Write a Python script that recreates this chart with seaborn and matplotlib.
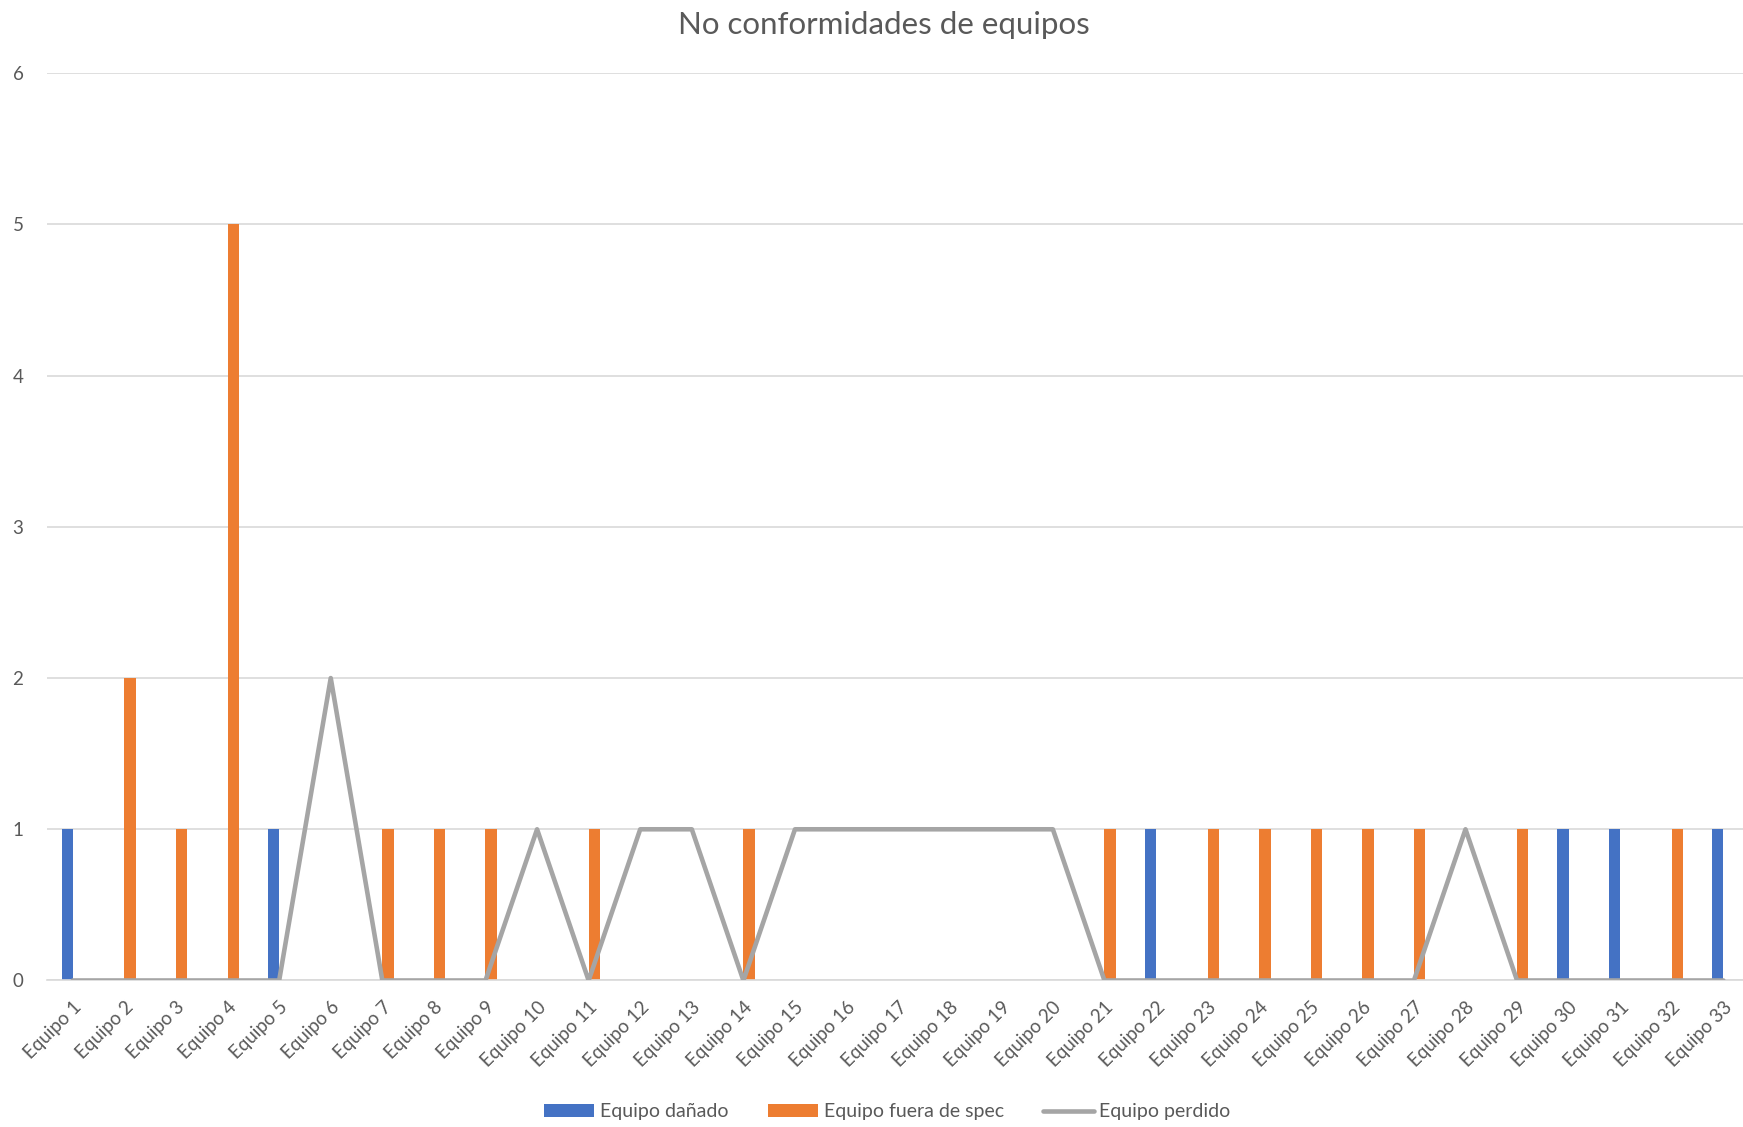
import numpy as np
import pandas as pd
import matplotlib
matplotlib.use("Agg")
import matplotlib.pyplot as plt
from matplotlib.patches import Patch
from matplotlib.lines import Line2D
import seaborn as sns

# Equipment labels
equipos = [f"Equipo {i}" for i in range(1, 34)]

# Counts per nonconformity type
danado = [1, 0, 0, 0, 1, 0, 0, 0, 0, 0, 0, 0, 0, 0, 0, 0, 0, 0, 0, 0,
          0, 1, 0, 0, 0, 0, 0, 0, 0, 1, 1, 0, 1]
fuera_spec = [0, 2, 1, 5, 0, 0, 1, 1, 1, 0, 1, 0, 0, 1, 0, 0, 0, 0, 0, 0,
              1, 0, 1, 1, 1, 1, 1, 0, 1, 0, 0, 1, 0]
perdido = [0, 0, 0, 0, 0, 2, 0, 0, 0, 1, 0, 1, 1, 0, 1, 1, 1, 1, 1, 1,
           0, 0, 0, 0, 0, 0, 0, 1, 0, 0, 0, 0, 0]

serie_names = ["Equipo dañado", "Equipo fuera de spec", "Equipo perdido"]
colors = ["#4472C4", "#ED7D31", "#A5A5A5"]
text_color = "#595959"
grid_color = "#D9D9D9"

sns.set_theme(style="white")
plt.rcParams["font.family"] = ["Lato", "DejaVu Sans"]

bars = pd.DataFrame({
    "equipo": equipos * 2,
    "valor": danado + fuera_spec,
    "serie": [serie_names[0]] * len(equipos) + [serie_names[1]] * len(equipos),
})

fig = plt.figure(figsize=(17.43, 11.27), dpi=100)
ax = fig.add_axes([0.027, 0.13, 0.973, 0.805])

sns.barplot(data=bars, x="equipo", y="valor", hue="serie", order=equipos,
            hue_order=serie_names[:2], palette=colors[:2], width=0.44,
            dodge=True, gap=0, saturation=1, errorbar=None, linewidth=0,
            legend=False, ax=ax, zorder=2)

sns.lineplot(x=np.arange(len(equipos)), y=perdido, color=colors[2],
             linewidth=3.3, ax=ax, zorder=3, legend=False)

ax.set_ylim(0, 6)
ax.set_xlim(-0.5, 32.38)
ax.set_yticks(range(0, 7))
ax.yaxis.grid(True, color=grid_color, linewidth=1.2)
ax.set_axisbelow(True)
for s in ["top", "right", "left"]:
    ax.spines[s].set_visible(False)
ax.spines["bottom"].set_color(grid_color)
ax.spines["bottom"].set_linewidth(1.2)
ax.set_xlabel("")
ax.set_ylabel("")
ax.tick_params(axis="both", length=0, colors=text_color, labelsize=13.5)
ax.tick_params(axis="y", pad=17)
ax.set_xticks(range(len(equipos)))
ax.set_xticklabels(equipos, rotation=45, ha="right", rotation_mode="anchor")
ax.tick_params(axis="x", pad=13)

fig.suptitle("No conformidades de equipos", x=0.507, y=0.99, va="top",
             fontsize=22.5, color=text_color)

handles = [
    Patch(facecolor=colors[0], edgecolor="none"),
    Patch(facecolor=colors[1], edgecolor="none"),
    Line2D([0], [0], color=colors[2], linewidth=3.3),
]
fig.legend(handles, serie_names, loc="center", bbox_to_anchor=(0.509, 0.0135),
           ncol=3, frameon=False, fontsize=14, labelcolor=text_color,
           handlelength=2.6, handleheight=0.6, handletextpad=0.3,
           columnspacing=2.0)

fig.savefig("out.png", dpi=100, facecolor="white")
